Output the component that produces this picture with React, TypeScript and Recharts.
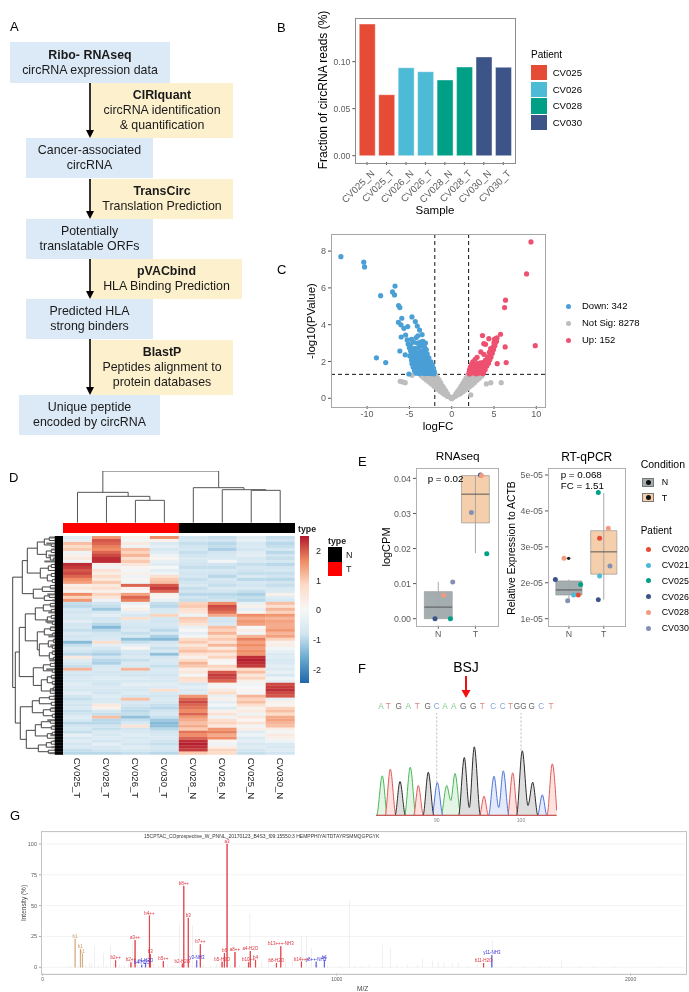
import React from 'react';
import {
  BarChart, Bar, Cell, XAxis, YAxis, ScatterChart, Scatter, ReferenceLine, ReferenceArea,
  AreaChart, Area, CartesianGrid, LabelList,
} from 'recharts';

const FONT = '"Liberation Sans", Arial, sans-serif';

/* ---------- Panel A ---------- */
const flowBlue = [
  { x: 10, y: 42, w: 160, h: 41, lines: ['*Ribo- RNAseq', 'circRNA expression data'] },
  { x: 26, y: 138, w: 127, h: 40, lines: ['Cancer-associated', 'circRNA'] },
  { x: 26, y: 219, w: 127, h: 40, lines: ['Potentially', 'translatable ORFs'] },
  { x: 26, y: 299, w: 127, h: 40, lines: ['Predicted HLA', 'strong binders'] },
  { x: 19, y: 395, w: 141, h: 40, lines: ['Unique peptide', 'encoded by circRNA'] },
];
const flowYellow = [
  { x: 91, y: 83, w: 142, h: 55, lines: ['*CIRIquant', 'circRNA identification', '& quantification'] },
  { x: 91, y: 179, w: 142, h: 40, lines: ['*TransCirc', 'Translation Prediction'] },
  { x: 91, y: 259, w: 151, h: 40, lines: ['*pVACbind', 'HLA Binding Prediction'] },
  { x: 91, y: 340, w: 142, h: 55, lines: ['*BlastP', 'Peptides alignment to', 'protein databases'] },
];

/* ---------- Panel B ---------- */
const sampleNames = ['CV025_N', 'CV025_T', 'CV026_N', 'CV026_T', 'CV028_N', 'CV028_T', 'CV030_N', 'CV030_T'];
const circFractions = [0.14, 0.0648, 0.0935, 0.0893, 0.0805, 0.0943, 0.105, 0.094];
const samplePatientColors = ['#E64B35', '#E64B35', '#4DBBD5', '#4DBBD5', '#00A087', '#00A087', '#3C5488', '#3C5488'];
const barPatients = ['CV025', 'CV026', 'CV028', 'CV030'];
const barPatientColors = ['#E64B35', '#4DBBD5', '#00A087', '#3C5488'];

/* ---------- Panel C ---------- */
const volcanoDown: number[][] = [
  [-13.1, 7.7], [-10.4, 7.4], [-10.3, 7.14], [-8.9, 2.2], [-7.8, 1.94], [-8.4, 5.58], [-6.7, 6.1], [-7.0, 5.78], [-6.76, 5.62],
  [-6.28, 5.04], [-6.13, 4.93], [-5.9, 4.35], [-6.3, 4.13], [-6.0, 3.99], [-5.65, 3.8], [-5.2, 3.9], [-4.7, 4.42], [-4.3, 4.17],
  [-4.07, 3.93], [-3.8, 3.71], [-3.5, 3.46], [-5.97, 3.33], [-5.45, 3.44], [-5.26, 3.17], [-6.13, 2.57], [-5.5, 2.36], [-5.06, 1.32],
  [-4.2, 3.3], [-4.0, 3.4], [-4.5, 3.05], [-3.7, 3.05], [-3.4, 3.1], [-3.1, 3.0], [-3.6, 2.85], [-3.2, 2.75], [-3.9, 2.75],
  [-4.3, 2.7], [-5.15, 2.95], [-5.0, 2.75], [-4.85, 2.55], [-4.55, 2.5], [-4.2, 2.45], [-3.85, 2.5], [-3.5, 2.55], [-3.15, 2.5],
  [-2.9, 2.42], [-4.7, 2.3], [-4.4, 2.25], [-4.05, 2.28], [-3.7, 2.3], [-3.35, 2.28], [-3.0, 2.25], [-2.7, 2.2], [-4.75, 2.08],
  [-4.45, 2.05], [-4.1, 2.08], [-3.75, 2.05], [-3.4, 2.08], [-3.05, 2.03], [-2.7, 2.02], [-2.45, 1.98], [-4.7, 1.88], [-4.35, 1.85],
  [-4.0, 1.88], [-3.65, 1.85], [-3.3, 1.87], [-2.95, 1.84], [-2.6, 1.85], [-2.3, 1.8], [-4.55, 1.68], [-4.2, 1.66], [-3.85, 1.68],
  [-3.5, 1.66], [-3.15, 1.68], [-2.8, 1.65], [-2.45, 1.66], [-2.15, 1.62], [-4.4, 1.5], [-4.05, 1.48], [-3.7, 1.5], [-3.35, 1.47],
  [-3.0, 1.5], [-2.65, 1.48], [-2.3, 1.48], [-2.05, 1.44], [-4.2, 1.36], [-3.85, 1.34], [-3.5, 1.36], [-3.15, 1.34], [-2.8, 1.35],
  [-2.45, 1.34], [-2.1, 1.33], [-4.9, 2.9], [-4.75, 3.2], [-3.3, 2.9], [-4.05, 3.0], [-4.65, 2.72], [-3.0, 2.65], [-4.95, 2.3],
];
const volcanoUp: number[][] = [
  [9.37, 8.5], [8.85, 6.76], [6.36, 5.33], [6.25, 4.93], [9.88, 2.86], [6.32, 2.79], [6.44, 1.94], [5.38, 1.88], [5.77, 3.48],
  [3.64, 3.41], [4.39, 3.24], [3.8, 2.97], [4.0, 2.93], [3.44, 2.52], [3.8, 2.39], [3.0, 2.23], [2.77, 2.12], [5.35, 3.28],
  [5.2, 3.25], [5.05, 3.2], [5.3, 3.1], [5.15, 3.0], [5.0, 3.02], [5.1, 2.85], [4.9, 2.8], [4.95, 2.65], [4.75, 2.58], [4.8, 2.45],
  [4.6, 2.4], [4.65, 2.25], [4.45, 2.2], [4.5, 2.1], [4.3, 2.05], [4.35, 1.9], [4.1, 1.88], [4.15, 1.75], [3.95, 1.7], [3.95, 1.55],
  [3.75, 1.42], [3.7, 1.34], [2.5, 1.98], [2.35, 1.85], [2.75, 1.85], [3.05, 1.88], [3.4, 1.92], [3.75, 1.95], [2.2, 1.7],
  [2.55, 1.68], [2.9, 1.7], [3.25, 1.68], [3.55, 1.72], [3.85, 1.82], [2.1, 1.55], [2.4, 1.52], [2.75, 1.54], [3.1, 1.52],
  [3.45, 1.55], [3.7, 1.6], [2.05, 1.4], [2.35, 1.38], [2.7, 1.38], [3.05, 1.36], [3.4, 1.38], [2.1, 1.32], [2.9, 1.33], [4.0, 2.08],
  [4.25, 2.25], [4.45, 2.5], [4.6, 2.7],
];
const volcanoNotSig: number[][] = [
  [0, -0.02], [0.15, 0.03], [0.3, 0.1], [0.5, 0.12], [0.5, 0.25], [0.7, 0.2], [0.7, 0.38], [0.9, 0.22], [0.9, 0.5], [1.1, 0.28],
  [1.1, 0.65], [1.3, 0.35], [1.3, 0.8], [1.5, 0.42], [1.5, 0.95], [1.7, 0.5], [1.7, 1.1], [1.9, 0.55], [1.9, 1.25], [2.1, 0.62],
  [2.1, 1.2], [2.4, 0.72], [2.4, 1.2], [2.7, 0.85], [2.7, 1.2], [3, 0.98], [3, 1.25], [3.3, 1.1], [3.6, 1.22], [0.9, 0.36],
  [1.3, 0.58], [1.7, 0.8], [2.1, 0.9], [2.5, 1.0], [1.5, 0.7], [1.9, 0.9], [1.1, 0.46], [3.0, 1.1], [-0.15, 0.03], [-0.3, 0.1],
  [-0.5, 0.1], [-0.5, 0.25], [-0.7, 0.18], [-0.7, 0.4], [-0.9, 0.22], [-0.9, 0.55], [-1.1, 0.3], [-1.1, 0.68], [-1.3, 0.36],
  [-1.3, 0.85], [-1.5, 0.44], [-1.5, 1.0], [-1.7, 0.52], [-1.7, 1.12], [-1.9, 0.6], [-1.9, 1.26], [-2.1, 0.66], [-2.1, 1.2],
  [-2.4, 0.78], [-2.4, 1.2], [-2.7, 0.88], [-2.7, 1.22], [-3.0, 1.0], [-3.0, 1.25], [-3.3, 1.1], [-3.6, 1.22], [-0.9, 0.38],
  [-1.3, 0.6], [-1.7, 0.82], [-2.1, 0.92], [-2.5, 1.02], [-1.5, 0.72], [-1.9, 0.92], [-1.1, 0.48], [-3.0, 1.12],
  [1.7, 0.95], [1.9, 1.08], [2.3, 1.05], [2.2, 0.78], [2.7, 1.02], [1.5, 0.55], [-1.7, 0.96], [-1.9, 1.08], [-2.3, 1.05], [-2.2, 0.8],
  [-2.7, 1.04], [-1.5, 0.58], [-3.3, 1.24], [3.3, 1.24],
  [-6.09, 0.92], [-5.8, 0.89], [-5.5, 0.85], [-4.7, 1.25], [2.25, 0.18], [4.1, 0.78], [4.62, 0.85], [5.85, 0.85],
];
const volcanoLegend = ['Down: 342', 'Not Sig: 8278', 'Up: 152'];
const volcanoColors = ['#4A9FD6', '#BDBDBD', '#EE5070'];

/* ---------- Panel D ---------- */
const heatColumns = ['CV025_T', 'CV028_T', 'CV026_T', 'CV030_T', 'CV028_N', 'CV026_N', 'CV025_N', 'CV030_N'];
const heatCV025T = [-0.5, -0.3, 1.1, 0.8, 1.0, -0.2, 0.2, 0.4, -0.1, 2.3, 2.2, 2.0, 2.1, 1.9, 1.6, 1.4, 0.3, 0.5, 0.1, 1.6, 0.9, 1.5, -0.9, -1.0, -0.7, -0.8, -0.6, -0.7, -0.4, -0.8, -0.7, -0.9, -0.6, -0.8, -0.7, -1.4, -0.9, -0.6, -0.8, -1.0, 0.4, -0.5, -0.7, -0.9, 1.2, -0.7, -0.8, -0.6, -0.7, -0.5, -0.6, -0.7, -0.4, -0.8, -0.9, -0.7, -0.8, -0.6, -0.9, -0.8, -0.5, -0.7, -1.0, -0.8, -0.7, -0.9, -0.3, -0.7, -0.5, -0.8, -0.6, -0.9, -1.0];
const heatCV028T = [1.5, 2.0, 1.9, 1.7, 1.6, 1.9, 2.1, 2.3, 2.3, 0.2, -0.1, 0.6, 0.3, 0.8, 0.4, 1.0, 0.4, 0.7, 0.2, 0.9, 0.5, -0.2, -0.8, -0.9, -1.2, -0.7, -0.4, -0.8, -0.7, -1.0, -1.4, -1.0, -0.8, -0.7, -0.6, 0.7, -0.4, -0.7, -0.9, -1.1, -0.8, -1.0, -1.1, -0.7, -0.6, -0.8, -0.7, -0.5, -0.7, -0.8, -0.6, -0.7, -0.8, -0.5, -0.7, -0.6, 0.4, 0.2, -0.7, -0.9, 1.1, -1.0, -1.0, -0.8, -0.9, -0.6, -0.7, -0.5, -0.8, -0.4, -0.7, -0.8, -1.0];
const heatCV026T = [0.2, -0.1, 0.4, -0.2, 1.1, 0.9, 1.2, 0.7, 1.0, 0.5, 0.1, -0.1, 0.2, -0.2, 0.1, -0.1, 1.9, 0.2, 0.0, 1.4, 1.9, 1.7, -0.3, 0.0, 0.2, -0.4, -0.7, 0.7, -0.6, -0.7, -0.8, -0.6, -0.9, -0.7, -1.3, -0.9, -0.4, 0.1, -0.7, -0.8, -0.6, -0.9, -0.6, -0.7, 1.2, -0.7, -0.8, -0.5, -0.7, -0.4, -0.6, -0.7, -0.5, -0.8, 1.1, -0.7, -0.8, -0.9, -1.0, -0.9, -1.3, -0.9, -0.7, 0.6, -0.8, -0.7, -0.5, -0.7, -0.6, -0.8, -0.5, -0.7, -0.9];
const heatCV030T = [1.6, 0.2, -0.6, -0.4, -0.7, -0.5, -0.2, 0.1, -0.3, -0.5, 0.0, -0.4, -0.2, 0.7, 1.0, 1.1, 2.0, 2.2, 1.9, 0.2, 0.1, -0.3, -0.9, -1.0, -0.7, -0.6, 0.9, -0.7, -0.8, -0.7, -0.8, -1.0, -0.7, -1.1, -1.4, -0.8, -0.6, -0.9, -0.7, -1.3, -0.8, -0.6, -0.7, -0.9, -0.6, -0.7, -0.8, -0.6, -0.7, -0.5, -0.6, 0.7, -0.7, -0.8, -0.6, -0.7, -0.9, -1.0, -0.8, -0.7, -0.9, -1.2, -1.4, -1.3, -1.0, -0.8, -0.7, -0.6, -0.8, -0.9, -0.7, -0.8, -1.0];
const heatCV028N = [-0.8, -0.7, -0.9, -0.8, -0.7, -0.9, -0.8, -0.6, -0.7, -0.8, -0.9, -0.7, -0.8, -0.7, -0.9, -0.8, -0.6, -0.9, -0.8, -1.0, -0.8, -0.9, 0.9, 1.0, 0.7, 0.5, -0.2, 1.0, 0.9, 0.6, -0.3, 0.0, -0.4, -0.1, 0.8, 1.0, 0.5, 0.9, 1.1, 0.6, 0.2, 0.8, 1.2, 1.0, 0.3, 0.5, -0.1, 0.8, 0.6, -0.7, -0.4, -0.6, -0.5, 1.5, 1.9, 2.1, 1.9, 1.8, 1.6, 1.9, 1.5, 1.3, 1.1, 1.3, 1.0, 1.8, 1.6, 1.9, 2.3, 2.4, 2.3, 2.2, 1.0];
const heatCV026N = [-0.9, -0.8, -1.0, -0.9, -1.1, -0.8, -0.7, -0.6, -0.1, -0.8, -0.9, -0.7, -0.8, -1.0, -0.7, -0.8, -0.9, -0.6, -0.8, -1.0, -0.9, -0.8, 1.6, 2.1, 2.0, 1.8, 1.3, -0.7, -0.8, -0.6, 1.1, 0.9, 1.2, 0.8, 1.0, 0.6, 1.2, 0.4, 1.0, 0.5, 0.9, 0.1, 0.0, 0.9, 0.6, 2.0, 2.2, 2.1, 1.9, 0.2, -0.1, 0.4, 0.8, -0.3, 0.2, -0.4, -0.1, -0.6, 0.2, 0.6, -0.2, 0.7, 0.9, 0.4, 1.5, 1.7, 1.3, 1.6, 0.1, -0.2, 0.3, 0.9, 0.8];
const heatCV025N = [-0.5, -0.3, -0.7, -0.6, -0.8, -0.5, -0.4, -0.7, -0.6, -0.9, -0.7, -0.8, -0.9, -0.6, -1.0, -0.7, -0.8, -0.6, -0.9, -1.1, -0.9, -1.0, -0.3, 0.2, -0.4, 0.1, 1.6, 1.3, 1.5, 1.4, 0.0, 0.3, -0.1, 1.2, 1.7, 1.4, 1.6, 1.4, 1.6, 1.5, 2.3, 2.4, 2.3, 2.2, 0.8, 1.1, 0.5, 0.9, 0.2, -0.2, 0.0, 0.1, -0.1, 1.2, 0.9, 1.1, 0.7, 0.2, 0.4, -0.2, 0.5, 0.1, 0.6, -0.1, 0.3, -0.5, -0.2, -0.6, -0.4, -0.7, -0.5, -0.8, -0.9];
const heatCV030N = [-0.9, -0.8, -1.0, -0.9, -0.7, -1.0, -0.8, -0.9, -0.7, -1.0, -0.8, -0.7, -0.9, -0.8, -1.0, -0.8, -0.9, -0.7, -0.6, 0.2, -0.5, -0.7, 1.1, 0.7, 1.2, 0.9, 1.5, 1.2, 1.4, 1.3, 1.3, 1.5, 1.2, 1.4, 0.9, 0.2, 0.3, -0.1, -0.3, -0.6, -0.5, -0.7, -0.6, -0.4, -0.6, -0.3, -0.7, -0.2, -0.4, 2.1, 2.2, 2.3, 2.1, 2.0, -0.3, 0.2, 0.1, 0.9, 1.1, 0.8, 1.3, 1.4, 1.2, 1.1, 0.3, -0.1, 0.4, 0.2, -0.2, -0.6, -0.7, -0.5, -0.8];
const heatMatrix = [heatCV025T, heatCV028T, heatCV026T, heatCV030T, heatCV028N, heatCV026N, heatCV025N, heatCV030N];
const heatStops = ['#2166AC', '#67A9CF', '#D1E5F0', '#F7F7F7', '#FDDBC7', '#EF8A62', '#B2182B'];
const heatLeafDepth = [14, 9, 17, 10, 12, 8, 15, 10, 19, 9, 8, 8, 9, 8, 9, 8, 8, 13, 9, 16, 8, 11, 8, 13, 9, 15, 8, 10, 18, 9, 13, 8, 10, 15, 9, 8, 13, 9, 11, 8, 8, 14, 9, 8, 17, 9, 8, 11, 8, 10, 9, 12, 8, 10, 9, 8, 7, 12, 8, 9, 8, 16, 8, 11, 8, 9, 13, 8, 10, 8, 12, 9, 14];

type TreeNode = number | [number, TreeNode, TreeNode];
const columnTree: TreeNode = [155,
  [91, 1, [79, 2, [67, 3, 4]]],
  [105, 5, [99, 6, [97, 7, 8]]],
];
const rowTree: TreeNode = [50.6,
  [41,
    [36,
      [26, [19, [14, 0, 1], [12, 2, 3]], [17, [12, 4, 5], [13, 6, [10, 7, 8]]]],
      [23, [15, [12, 9, 10], 11], [16, [12, 12, 13], [11, 14, 15]]],
    ],
    [30, [21, [13, 16, 17], 18], [19, [14, 19, 20], 21]],
  ],
  [48,
    [44,
      [38,
        [28, [20, [13, 22, 23], [12, 24, 25]], [16, [12, 26, 27], [11, 28, 29]]],
        [26, [19, [13, 30, 31], [11, 32, 33]], [24, [15, [10, 34, 35], [11, 36, 37]], [14, [11, 38, 39], [10, 40, 41]]]],
      ],
      [30, [20, [13, 42, 43], [11, 44, 45]], [22, [16, [12, 46, 47], [11, 48, 49]], [13, [10, 50, 51], 52]]],
    ],
    [43,
      [31, [24, [14, 53, 54], [12, 55, 56]], [20, [13, 57, 58], [11, 59, 60]]],
      [37, [28, [22, [13, 61, 62], [12, 63, 64]], [16, [11, 65, 66], 67]], [25, [17, [12, 68, 69], 70], [15, 71, 72]]],
    ],
  ],
];

/* ---------- Panel E ---------- */
const patients = ['CV020', 'CV021', 'CV025', 'CV026', 'CV028', 'CV030'];
const patientColors = ['#E64B35', '#4DBBD5', '#00A087', '#3C5488', '#F39B7F', '#8491B4'];
const rnaPoints: Record<string, number[][]> = {
  CV025: [[1.327, 0], [2.306, 0.0185]],
  CV026: [[0.912, 0], [2.136, 0.04095]],
  CV028: [[1.147, 0.00665], [2.163, 0.0408]],
  CV030: [[1.389, 0.01045], [1.893, 0.0303]],
};
const rnaBoxN = { q1: 0, med: 0.0033, q3: 0.0077, lo: 0, hi: 0.0105 };
const rnaBoxT = { q1: 0.0273, med: 0.0355, q3: 0.0408, lo: 0.0187, hi: 0.0408 };
const pcrPoints: Record<string, number[][]> = {
  CV020: [[1.27, 1.66e-5], [1.881, 3.24e-5]],
  CV021: [[1.136, 1.66e-5], [1.881, 2.19e-5]],
  CV025: [[1.337, 1.95e-5], [1.843, 4.51e-5]],
  CV026: [[0.611, 2.09e-5], [1.843, 1.53e-5]],
  CV028: [[0.859, 2.68e-5], [2.13, 3.52e-5]],
  CV030: [[0.964, 1.5e-5], [2.177, 2.47e-5]],
};
const pcrOutlier = [[0.993, 2.68e-5]];
const pcrBoxN = { q1: 1.66e-5, med: 1.8e-5, q3: 2.05e-5, lo: 1.5e-5, hi: 2.09e-5 };
const pcrBoxT = { q1: 2.24e-5, med: 2.86e-5, q3: 3.45e-5, lo: 1.53e-5, hi: 4.5e-5 };
const boxColors = { N: '#A4AEB1', T: '#F5CFAC' };

/* ---------- Panel F ---------- */
const seqLetters = ['A', 'T', 'G', 'A', 'T', 'G', 'C', 'A', 'A', 'G', 'G', 'T', 'C', 'C', 'T', 'G', 'G', 'G', 'C', 'T'];
const seqX = [381, 388.3, 398.7, 408.3, 417.3, 427.7, 436.7, 445, 453.7, 463.3, 473.3, 482.3, 493.3, 502.7, 510.5, 517, 523.5, 531.7, 541.3, 551];
const seqColor: Record<string, string> = { A: '#7CCB86', T: '#D98A86', G: '#666666', C: '#86A4DC' };
const traceA = [[0, 0], [0.6, 0], [6.3, 39.7], [11.5, 0], [28.5, 0], [34.3, 48.3], [40, 0], [65, 0], [70.7, 30], [74.8, 15], [79, 42], [85, 0], [180, 0]];
const traceT = [[0, 0], [9, 0], [14.3, 46.3], [20, 0], [37.5, 0], [42.3, 30], [47.5, 0], [103.5, 0], [108, 19.3], [112.5, 0], [131.5, 0], [136.7, 42.7], [142, 0], [171, 0], [176.3, 51.7], [180.7, 5]];
const traceG = [[0, 0], [19, 0], [24, 34], [29.5, 0], [47, 0], [52.3, 43.3], [58, 0], [82.5, 0], [88.3, 58], [93.3, 8], [98.3, 68.7], [104.5, 0], [140.5, 0], [146.3, 64.7], [152, 10], [156.7, 33.3], [162, 0], [180, 0]];
const traceC = [[0, 0], [56, 0], [61.3, 33], [67, 0], [112.5, 0], [118, 39.3], [122.7, 8], [127.3, 44.7], [133, 0], [161.5, 0], [166.3, 20.7], [171, 0], [180, 0]];

/* ---------- Panel G ---------- */
const spectrumGray = [
  [85, 1], [95, 1.5], [118, 1], [145, 1.5], [158, 4], [165, 3], [176, 17], [190, 1.5], [207, 11.6], [218, 1.5], [231, 18], [240, 3], [262, 2], [278, 1.5], [291, 2], [305, 20],
  [322, 2], [345, 2], [378, 3], [395, 2], [425, 2], [440, 1.5], [465, 35], [472, 2], [509, 34], [518, 3], [548, 2], [570, 1], [590, 2], [603, 4], [640, 3], [668, 2], [690, 1.5], [705, 43.5],
  [745, 5.5], [769, 7], [790, 3], [825, 5], [850, 6], [881, 25], [898, 24.6], [915, 15.7], [935, 2], [970, 1.5], [1010, 1.5], [1043, 54], [1062, 1.5], [1085, 1.5], [1110, 2], [1156, 18.6],
  [1183, 15.7], [1205, 2], [1240, 2], [1275, 2], [1292, 7], [1325, 5], [1345, 4], [1365, 4], [1395, 3], [1413, 4], [1450, 1.5], [1480, 2], [1530, 22], [1590, 1], [1640, 1], [1690, 1.5],
  [1725, 1], [1764, 6], [1830, 1], [1875, 1], [1945, 1], [2100, 0.7],
];
const spectrumRed: [number, number, string][] = [
  [248, 5.7, 'b2++'], [300, 4, 'b2++'], [314, 22, 'a3++'], [363, 42, 'b4++'], [366, 10.5, 'b3'], [410, 5, 'b5++'], [475, 3, 'b2-H2O'], [480, 66, 'b8++'], [495, 40, 'b3'],
  [536, 18.6, 'b7++'], [610, 4.5, 'b5-H2O'], [618, 11.6, 'b6'], [627, 100, 'a3'], [654, 12.4, 'a8++'], [700, 4, 'b10++'], [706, 13, 'a4-H2O'], [724, 6, 'b4'], [795, 3.5, 'b8-H2O'],
  [810, 17, 'b13+++-NH3'], [880, 4.5, 'b14+++'], [1500, 3.5, 'b11-H2O'],
];
const spectrumBlue: [number, number, string][] = [
  [337, 2, 'b4-H2O'], [350, 3.5, 'y4-H2O'], [524, 5.7, 'y3-NH3'], [930, 4.5, 'y8++-NH3'], [958, 5.7, 'b6'], [1528, 9.7, 'y11-NH3'],
];
const spectrumBrown: [number, number, string][] = [[110, 23, 'b1'], [128, 15, 'b1'], [135, 11, 'y1']];
const spectrumTitle = '15CPTAC_COprospective_W_PNNL_20170123_B4S3_f09:15550:3 HEMPPHIYAITDTAYRSMMQGPGYK';

/* ---------- Table builders ---------- */
const barRows = sampleNames.map((s, i) => ({ sample: s, v: circFractions[i] }));
const toPt = (a: number[][]) => a.map(([x, y]) => ({ x, y }));
const toTrace = (a: number[][]) => a.map(([x, v]) => ({ x, v }));
const heatCells = heatMatrix.flatMap((col, c) => col.map((v, r) => ({ col: c + 1, row: r, v })));
const spectrumRows = [
  ...spectrumGray.map(([mz, h]) => ({ mz, gray: h })),
  ...spectrumRed.map(([mz, h, l]) => ({ mz, red: h, redL: l })),
  ...spectrumBlue.map(([mz, h, l]) => ({ mz, blue: h, blueL: l })),
  ...spectrumBrown.map(([mz, h, l]) => ({ mz, brown: h, brownL: l })),
].sort((a, b) => a.mz - b.mz);

function flatten(n: TreeNode, leafH: number, out: { p: number; h: number }[][]): { p: number; h: number } {
  if (typeof n === 'number') return { p: n, h: leafH };
  const a = flatten(n[1], leafH, out);
  const b = flatten(n[2], leafH, out);
  out.push([{ p: a.p, h: a.h }, { p: a.p, h: n[0] }, { p: b.p, h: n[0] }, { p: b.p, h: b.h }]);
  return { p: (a.p + b.p) / 2, h: n[0] };
}
const columnSegs: { p: number; h: number }[][] = [];
flatten(columnTree, 0, columnSegs);
const rowSegs: { p: number; h: number }[][] = [];
flatten(rowTree, 8, rowSegs);

function heatColor(v: number) {
  const t = Math.max(0, Math.min(1, (v + 2.45) / 4.9)) * (heatStops.length - 1);
  const i = Math.min(heatStops.length - 2, Math.floor(t));
  const f = t - i;
  const p = (s: string, k: number) => parseInt(s.slice(k, k + 2), 16);
  const mix = (k: number) => Math.round(p(heatStops[i], k) * (1 - f) + p(heatStops[i + 1], k) * f);
  return `rgb(${mix(1)},${mix(3)},${mix(5)})`;
}

/* ---------- Small helpers ---------- */
function Txt({ x, y, size = 9, anchor = 'start', color = '#000', weight = 400, rotate = 0, children }: any) {
  const tx = anchor === 'middle' ? '-50%' : anchor === 'end' ? '-100%' : '0';
  return (
    <div style={{
      position: 'absolute', left: x, top: y, fontSize: size, color, fontWeight: weight, whiteSpace: 'nowrap', lineHeight: 1,
      transform: `translate(${tx}, -50%) rotate(${rotate}deg)`, transformOrigin: anchor === 'middle' ? 'center' : 'left center',
    }}>{children}</div>
  );
}
function Frame({ x, y, w, h, color = '#8c8c8c', bw = 1 }: any) {
  return <div style={{ position: 'absolute', left: x - bw / 2, top: y - bw / 2, width: w, height: h, border: `${bw}px solid ${color}`, pointerEvents: 'none' }} />;
}
function Place({ x, y, children }: any) {
  return <div style={{ position: 'absolute', left: x, top: y }}>{children}</div>;
}
function FlowBox({ b, color }: any) {
  return (
    <div style={{
      position: 'absolute', left: b.x, top: b.y, width: b.w, height: b.h, background: color, display: 'flex', flexDirection: 'column',
      alignItems: 'center', justifyContent: 'center', fontSize: 12.4, lineHeight: '15px', color: '#1a1a1a',
    }}>
      {b.lines.map((l: string, i: number) => (
        <div key={i} style={{ fontWeight: l.startsWith('*') ? 700 : 400, whiteSpace: 'nowrap' }}>{l.replace('*', '')}</div>
      ))}
    </div>
  );
}
const tickGrey = (size: number) => ({ fontSize: size, fill: '#5a5a5a', fontFamily: FONT });
const dot = (r: number, fill: string) => (p: any) => <circle cx={p.cx} cy={p.cy} r={r} fill={fill} />;
const noShape = () => <g />;

function RotTick({ x, y, payload }: any) {
  return (
    <text x={x + 3} y={y + 2} transform={`rotate(-45 ${x + 3} ${y + 2})`} textAnchor="end" dominantBaseline="hanging" fontSize={9.6} fill="#5a5a5a" fontFamily={FONT}>
      {payload.value}
    </text>
  );
}
function HeatTick({ x, y, payload }: any) {
  return (
    <text x={x} y={y} transform={`rotate(90 ${x} ${y})`} textAnchor="start" dominantBaseline="central" fontSize={9.6} fill="#222" fontFamily={FONT}>
      {heatColumns[payload.value - 1]}
    </text>
  );
}

function BoxChart({ width, height, leftGutter, domain, ticks, fmt, points, boxN, boxT, children }: any) {
  const boxes = [{ at: 1, b: boxN, c: boxColors.N }, { at: 2, b: boxT, c: boxColors.T }];
  return (
    <ScatterChart width={width + leftGutter + 1} height={height + 18} margin={{ top: 0, right: 1, bottom: 0, left: 0 }}>
      <XAxis type="number" dataKey="x" domain={[0.4, 2.6]} ticks={[1, 2]} tickFormatter={(v: number) => (v === 1 ? 'N' : 'T')} height={18} tick={tickGrey(8.8)} tickSize={3} axisLine={false} stroke="#555" />
      <YAxis type="number" dataKey="y" domain={domain} ticks={ticks} tickFormatter={fmt} width={leftGutter} tick={tickGrey(8.8)} tickSize={3} axisLine={false} stroke="#555" allowDataOverflow />
      {boxes.map(({ at, b }) => (
        <ReferenceLine key={`w${at}`} segment={[{ x: at, y: b.lo }, { x: at, y: b.hi }]} stroke="#a8a8a8" strokeWidth={1} />
      ))}
      {boxes.map(({ at, b, c }) => (
        <ReferenceArea key={`b${at}`} x1={at - 0.375} x2={at + 0.375} y1={b.q1} y2={b.q3} fill={c} fillOpacity={1} stroke="#9a9a9a" strokeWidth={0.7} />
      ))}
      {boxes.map(({ at, b }) => (
        <ReferenceLine key={`m${at}`} segment={[{ x: at - 0.375, y: b.med }, { x: at + 0.375, y: b.med }]} stroke="#555" strokeWidth={1} />
      ))}
      {Object.keys(points).map((k) => (
        <Scatter key={k} data={toPt(points[k])} isAnimationActive={false} shape={dot(2.5, patientColors[patients.indexOf(k)])} />
      ))}
      {children}
    </ScatterChart>
  );
}

function TriArrow({ x, y1, y2, color, w, head, headW }: any) {
  return (
    <svg style={{ position: 'absolute', left: x - 10, top: y1, overflow: 'visible' }} width={20} height={y2 - y1}>
      <line x1={10} y1={0} x2={10} y2={y2 - y1 - head + 1} stroke={color} strokeWidth={w} />
      <polygon points={`${10 - headW / 2},${y2 - y1 - head} ${10 + headW / 2},${y2 - y1 - head} 10,${y2 - y1}`} fill={color} />
    </svg>
  );
}

export default function App() {
  return (
    <div style={{ position: 'absolute', left: 0, top: 0, width: 689, height: 992, overflow: 'hidden', background: '#fff', fontFamily: FONT, filter: 'blur(0.35px)' }}>
      {/* Panel letters */}
      <Txt x={10} y={26} size={13}>A</Txt>
      <Txt x={277} y={27} size={13}>B</Txt>
      <Txt x={277} y={269} size={13}>C</Txt>
      <Txt x={9} y={477} size={13}>D</Txt>
      <Txt x={358} y={461} size={13}>E</Txt>
      <Txt x={358} y={668} size={13}>F</Txt>
      <Txt x={10} y={815} size={13}>G</Txt>

      {/* A */}
      {flowYellow.map((b, i) => <FlowBox key={i} b={b} color="#FDF0CD" />)}
      {flowBlue.map((b, i) => <FlowBox key={i} b={b} color="#DCE9F7" />)}
      {[[83, 138], [179, 219], [259, 299], [339, 395]].map(([a, b], i) => (
        <TriArrow key={i} x={90} y1={a} y2={b} color="#000" w={1.6} head={8} headW={8} />
      ))}

      {/* B */}
      <Place x={325} y={18}>
        <BarChart width={192} height={194} data={barRows} margin={{ top: 0, right: 2, bottom: 0, left: 0 }} barCategoryGap="10%">
          <XAxis dataKey="sample" height={50} interval={0} tick={<RotTick />} tickSize={3} axisLine={false} stroke="#555" padding={{ left: 2, right: 2 }} />
          <YAxis type="number" domain={[-0.0067, 0.1464]} ticks={[0, 0.05, 0.1]} allowDataOverflow tickFormatter={(v: number) => v.toFixed(2)} width={30.3} tick={tickGrey(8.6)} tickSize={3} axisLine={false} stroke="#555" />
          <Bar dataKey="v" isAnimationActive={false} stroke="#ffffff" strokeOpacity={0.7} strokeWidth={0.6}>
            {barRows.map((r, i) => <Cell key={r.sample} fill={samplePatientColors[i]} />)}
          </Bar>
        </BarChart>
      </Place>
      <Frame x={355.3} y={18.3} w={159} h={144} />
      <Txt x={323} y={90} size={12} anchor="middle" rotate={-90}>Fraction of circRNA reads (%)</Txt>
      <Txt x={435} y={211} size={11.5} anchor="middle">Sample</Txt>
      <Txt x={531} y={54.5} size={10}>Patient</Txt>
      {barPatients.map((p, i) => (
        <React.Fragment key={p}>
          <div style={{ position: 'absolute', left: 531, top: 65 + i * 16.6, width: 15.7, height: 15.4, background: barPatientColors[i] }} />
          <Txt x={552.7} y={73 + i * 16.6} size={9.6}>{p}</Txt>
        </React.Fragment>
      ))}

      {/* C */}
      <Place x={301} y={234}>
        <ScatterChart width={244} height={190} margin={{ top: 0, right: 0, bottom: 0, left: 0 }}>
          <XAxis type="number" dataKey="x" domain={[-14.27, 11.03]} ticks={[-10, -5, 0, 5, 10]} height={18} tick={tickGrey(9)} tickSize={3} axisLine={false} stroke="#555" allowDataOverflow />
          <YAxis type="number" dataKey="y" domain={[-0.42, 8.93]} ticks={[0, 2, 4, 6, 8]} width={30} tick={tickGrey(9)} tickSize={3} axisLine={false} stroke="#555" allowDataOverflow />
          <Scatter data={toPt(volcanoNotSig)} isAnimationActive={false} shape={dot(2.6, volcanoColors[1])} />
          <Scatter data={toPt(volcanoDown)} isAnimationActive={false} shape={dot(2.6, volcanoColors[0])} />
          <Scatter data={toPt(volcanoUp)} isAnimationActive={false} shape={dot(2.6, volcanoColors[2])} />
          <ReferenceLine x={-2} stroke="#111" strokeDasharray="4 3" strokeWidth={1} />
          <ReferenceLine x={2} stroke="#111" strokeDasharray="4 3" strokeWidth={1} />
          <ReferenceLine y={1.3} stroke="#111" strokeDasharray="4 3" strokeWidth={1} />
        </ScatterChart>
      </Place>
      <Frame x={331} y={234} w={213.3} h={172} color="#a6a6a6" />
      <Txt x={312} y={321} size={11.5} anchor="middle" rotate={-90}>-log10(PValue)</Txt>
      <Txt x={438} y={426.5} size={11.5} anchor="middle">logFC</Txt>
      {volcanoLegend.map((l, i) => (
        <React.Fragment key={l}>
          <div style={{ position: 'absolute', left: 565.5, top: 303.5 + i * 17, width: 5, height: 5, borderRadius: 3, background: volcanoColors[i] }} />
          <Txt x={582} y={306 + i * 17} size={9.5}>{l}</Txt>
        </React.Fragment>
      ))}

      {/* D top dendrogram */}
      <Place x={63.3} y={471}>
        <ScatterChart width={231.7} height={51.7} margin={{ top: 0, right: 0, bottom: 0, left: 0 }}>
          <XAxis hide type="number" dataKey="p" domain={[0.5, 8.5]} />
          <YAxis hide type="number" dataKey="h" domain={[0, 155]} />
          {columnSegs.map((s, i) => (
            <Scatter key={i} data={s} isAnimationActive={false} line={{ stroke: '#555', strokeWidth: 1 }} shape={noShape} />
          ))}
        </ScatterChart>
      </Place>
      {/* D annotation */}
      <div style={{ position: 'absolute', left: 63.3, top: 523.3, width: 115.9, height: 10, background: '#FF0000' }} />
      <div style={{ position: 'absolute', left: 179.2, top: 523.3, width: 115.8, height: 10, background: '#000' }} />
      <Txt x={298} y={529} size={8.8} weight={700} color="#222">type</Txt>
      {/* D left dendrogram */}
      <Place x={0} y={536}>
        <ScatterChart width={63.3} height={218.7} margin={{ top: 0, right: 0, bottom: 0, left: 0 }}>
          <XAxis hide type="number" dataKey="h" domain={[0, 63.3]} reversed />
          <YAxis hide type="number" dataKey="p" domain={[-0.5, 72.5]} reversed />
          {rowSegs.map((s, i) => (
            <Scatter key={i} data={s} isAnimationActive={false} line={{ stroke: '#444', strokeWidth: 1 }} shape={noShape} />
          ))}
          <Scatter
            data={heatLeafDepth.map((h, p) => ({ h, p }))}
            isAnimationActive={false}
            shape={(o: any) => (
              <g>
                <line x1={o.cx} x2={63.3} y1={o.cy} y2={o.cy} stroke="#6e6e6e" strokeWidth={2} />
                <line x1={54.8} x2={63.3} y1={o.cy} y2={o.cy} stroke="#000" strokeWidth={3.2} />
              </g>
            )}
          />
        </ScatterChart>
      </Place>
      {/* D heat map */}
      <Place x={63.3} y={536}>
        <ScatterChart width={231.7} height={268.7} margin={{ top: 0, right: 0, bottom: 0, left: 0 }}>
          <XAxis type="number" dataKey="col" domain={[0.5, 8.5]} ticks={[1, 2, 3, 4, 5, 6, 7, 8]} interval={0} height={50} tick={<HeatTick />} tickLine={false} tickSize={3} tickMargin={0} axisLine={false} />
          <YAxis hide type="number" dataKey="row" domain={[-0.5, 72.5]} reversed />
          <Scatter
            data={heatCells}
            isAnimationActive={false}
            shape={(o: any) => <rect x={o.cx - 14.5} y={o.cy - 1.55} width={29} height={3.1} fill={heatColor(o.payload.v)} />}
          />
        </ScatterChart>
      </Place>
      {/* D legends */}
      <div style={{
        position: 'absolute', left: 300, top: 536, width: 9.3, height: 146.7,
        background: `linear-gradient(to top, ${heatStops.join(',')})`,
      }} />
      {[['2', 551], ['1', 580.5], ['0', 610], ['-1', 640], ['-2', 669.5]].map(([t, y]) => (
        <Txt key={t} x={t.length > 1 ? 313 : 316} y={y} size={9} color="#222">{t}</Txt>
      ))}
      <Txt x={328} y={541} size={8.8} weight={700} color="#222">type</Txt>
      <div style={{ position: 'absolute', left: 328, top: 547, width: 14, height: 14.5, background: '#000' }} />
      <div style={{ position: 'absolute', left: 328, top: 561.5, width: 14, height: 14.5, background: '#FF0000' }} />
      <Txt x={346} y={554.5} size={9} color="#222">N</Txt>
      <Txt x={346} y={569} size={9} color="#222">T</Txt>

      {/* E */}
      <Place x={386.3} y={468.3}>
        <BoxChart width={81.7} height={157.7} leftGutter={30} domain={[-0.002, 0.04296]} ticks={[0, 0.01, 0.02, 0.03, 0.04]} fmt={(v: number) => v.toFixed(2)} points={rnaPoints} boxN={rnaBoxN} boxT={rnaBoxT} />
      </Place>
      <Frame x={416.3} y={468.3} w={81.7} h={157.7} color="#b0b0b0" />
      <Place x={518.3} y={468.3}>
        <BoxChart width={76.7} height={157.7} leftGutter={30} domain={[0.805e-5, 5.195e-5]} ticks={[1e-5, 2e-5, 3e-5, 4e-5, 5e-5]} fmt={(v: number) => `${Math.round(v * 1e5)}e-05`} points={pcrPoints} boxN={pcrBoxN} boxT={pcrBoxT}>
          <Scatter data={toPt(pcrOutlier)} isAnimationActive={false} shape={dot(1.7, '#222')} />
        </BoxChart>
      </Place>
      <Frame x={548.3} y={468.3} w={76.7} h={157.7} color="#b0b0b0" />
      <Txt x={457.7} y={457} size={11.8} anchor="middle">RNAseq</Txt>
      <Txt x={586.7} y={457} size={12} anchor="middle">RT-qPCR</Txt>
      <Txt x={386} y={547} size={11} anchor="middle" rotate={-90}>logCPM</Txt>
      <Txt x={512} y={548} size={10.4} anchor="middle" rotate={-90}>Relative Expression to ACTB</Txt>
      <Txt x={427.7} y={479} size={9.8}>p = 0.02</Txt>
      <Txt x={560.7} y={474.7} size={9.8}>p = 0.068</Txt>
      <Txt x={560.7} y={486} size={9.8}>FC = 1.51</Txt>
      <Txt x={640.7} y={464} size={10.5}>Condition</Txt>
      {[{ k: 'N', y: 482, c: boxColors.N }, { k: 'T', y: 497.7, c: boxColors.T }].map(({ k, y, c }) => (
        <React.Fragment key={k}>
          <div style={{ position: 'absolute', left: 642, top: y - 4.5, width: 12, height: 9, background: c, border: '0.5px solid #777', boxSizing: 'border-box' }} />
          <div style={{ position: 'absolute', left: 645.5, top: y - 2.5, width: 5, height: 5, borderRadius: 3, background: '#111' }} />
          <Txt x={661.7} y={y} size={8.9}>{k}</Txt>
        </React.Fragment>
      ))}
      <Txt x={640.7} y={531} size={10}>Patient</Txt>
      {patients.map((p, i) => (
        <React.Fragment key={p}>
          <div style={{ position: 'absolute', left: 645.5, top: 546.8 + i * 15.75, width: 5, height: 5, borderRadius: 3, background: patientColors[i] }} />
          <Txt x={661.7} y={549.3 + i * 15.75} size={8.9}>{p}</Txt>
        </React.Fragment>
      ))}

      {/* F */}
      <Txt x={466} y={667} size={14} anchor="middle">BSJ</Txt>
      <TriArrow x={466} y1={676} y2={698} color="#F01010" w={2} head={8} headW={9} />
      {seqLetters.map((l, i) => (
        <Txt key={i} x={seqX[i]} y={706.7} size={8.2} anchor="middle" color={seqColor[l]}>{l}</Txt>
      ))}
      <Place x={376} y={713}>
        <AreaChart width={180.7} height={102.5} margin={{ top: 0, right: 0, bottom: 0, left: 0 }}>
          <XAxis hide type="number" dataKey="x" domain={[0, 180.7]} />
          <YAxis hide type="number" domain={[0, 102.5]} />
          <ReferenceLine segment={[{ x: 60.7, y: 33 }, { x: 60.7, y: 102.5 }]} stroke="#bbb" strokeDasharray="2 2" />
          <ReferenceLine segment={[{ x: 145, y: 65 }, { x: 145, y: 102.5 }]} stroke="#bbb" strokeDasharray="2 2" />
          <Area data={toTrace(traceA)} dataKey="v" type="monotone" stroke="#46B757" strokeWidth={1} fill="#DDF3DF" fillOpacity={0.8} isAnimationActive={false} />
          <Area data={toTrace(traceT)} dataKey="v" type="monotone" stroke="#E05A5A" strokeWidth={1} fill="#FBDCD8" fillOpacity={0.8} isAnimationActive={false} />
          <Area data={toTrace(traceC)} dataKey="v" type="monotone" stroke="#4F72D8" strokeWidth={1} fill="#DDE5F8" fillOpacity={0.8} isAnimationActive={false} />
          <Area data={toTrace(traceG)} dataKey="v" type="monotone" stroke="#2A2A2A" strokeWidth={1} fill="#DADADA" fillOpacity={0.9} isAnimationActive={false} />
          <ReferenceLine y={0} stroke="#C85A5A" strokeWidth={1.4} />
        </AreaChart>
      </Place>
      <Txt x={436.7} y={820} size={5} anchor="middle" color="#888">90</Txt>
      <Txt x={521} y={820} size={5} anchor="middle" color="#888">100</Txt>

      {/* G */}
      <Place x={21} y={831.7}>
        <BarChart width={664} height={153} data={spectrumRows} margin={{ top: 0, right: 0, bottom: 0, left: 0 }}>
          <CartesianGrid vertical={false} stroke="#F3F3F3" />
          <XAxis type="number" dataKey="mz" domain={[-6, 2185]} ticks={[0, 1000, 2000]} height={11.4} tick={tickGrey(5)} tickSize={2} axisLine={false} stroke="#aaa" allowDataOverflow />
          <YAxis type="number" domain={[-5.1, 109.7]} ticks={[0, 25, 50, 75, 100]} width={20} tick={tickGrey(5.5)} tickSize={2} axisLine={false} stroke="#aaa" allowDataOverflow />
          <Bar dataKey="gray" stackId="s" barSize={1} fill="#C4C4C4" isAnimationActive={false} />
          <Bar dataKey="brown" stackId="s" barSize={1} fill="#C8955F" stroke="#C8955F" strokeWidth={0.5} isAnimationActive={false}>
            <LabelList dataKey="brownL" position="top" offset={1} fontSize={4.5} fill="#C8955F" />
          </Bar>
          <Bar dataKey="blue" stackId="s" barSize={1} fill="#3434D6" stroke="#3434D6" strokeWidth={0.5} isAnimationActive={false}>
            <LabelList dataKey="blueL" position="top" offset={1} fontSize={4.5} fill="#3434D6" />
          </Bar>
          <Bar dataKey="red" stackId="s" barSize={1} fill="#E0303A" stroke="#E0303A" strokeWidth={0.7} isAnimationActive={false}>
            <LabelList dataKey="redL" position="top" offset={1} fontSize={4.5} fill="#E0303A" />
          </Bar>
        </BarChart>
      </Place>
      <Frame x={41} y={831.7} w={644} h={141.6} color="#C4C4C4" bw={1} />
      <Txt x={144} y={835.5} size={5} color="#333">{spectrumTitle}</Txt>
      <Txt x={23.5} y={902.7} size={6.5} anchor="middle" rotate={-90} color="#444">Intensity (%)</Txt>
      <Txt x={362.7} y={988.5} size={6.5} anchor="middle" color="#444">M/Z</Txt>
    </div>
  );
}
